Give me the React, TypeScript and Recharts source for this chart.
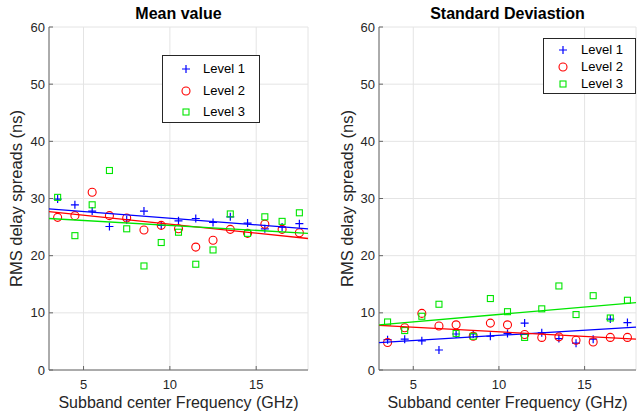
import React from 'react';
import { ComposedChart, Scatter, XAxis, YAxis, CartesianGrid } from 'recharts';

const FONT = '"Liberation Sans", Arial, Helvetica, sans-serif';

// subband centre frequencies (GHz)
const frequencies = [3.5, 4.5, 5.5, 6.5, 7.5, 8.5, 9.5, 10.5, 11.5, 12.5, 13.5, 14.5, 15.5, 16.5, 17.5];
// x extent of the fitted trend lines
const fitRange = [3, 18];

// mean RMS delay spread (ns)
const meanLevel1 = [29.9, 28.9, 27.8, 25.1, 26.3, 27.8, 25.3, 26.1, 26.5, 25.8, 26.8, 25.7, 24.7, 25.0, 25.6];
const meanLevel2 = [26.7, 27.0, 31.1, 27.0, 26.6, 24.5, 25.3, 24.7, 21.5, 22.7, 24.6, 23.9, 25.5, 24.6, 24.0];
const meanLevel3 = [30.2, 23.5, 28.9, 34.9, 24.7, 18.2, 22.3, 24.1, 18.5, 21.0, 27.3, 23.9, 26.8, 26.0, 27.5];
const meanFit1 = [28.2, 24.7];
const meanFit2 = [27.7, 23.0];
const meanFit3 = [26.5, 23.9];

// standard deviation of RMS delay spread (ns)
const stdLevel1 = [5.3, 5.4, 5.1, 3.5, 6.3, 6.3, 5.9, 6.4, 8.2, 6.5, 5.5, 4.7, 5.4, 8.9, 8.3];
const stdLevel2 = [4.8, 7.4, 9.9, 7.7, 7.9, 5.9, 8.2, 7.9, 6.2, 5.7, 5.8, 5.2, 4.9, 5.7, 5.7];
const stdLevel3 = [8.4, 6.9, 9.4, 11.5, 6.4, 5.9, 12.5, 10.2, 5.7, 10.7, 14.7, 9.7, 13.0, 9.1, 12.2];
const stdFit1 = [4.8, 7.5];
const stdFit2 = [7.8, 5.4];
const stdFit3 = [7.9, 11.8];

const xTicks = [5, 10, 15];
const yTicks = [0, 10, 20, 30, 40, 50, 60];
const levelNames = ['Level 1', 'Level 2', 'Level 3'];
const levelColors = ['#0000ff', '#ff0000', '#00e600'];
const markerKinds = ['plus', 'circle', 'square'];

const toPoints = (xs: number[], ys: number[]) => xs.map((x, i) => ({ x, y: ys[i] }));

const Marker = ({ kind, color, cx, cy }: { kind: string; color: string; cx: number; cy: number }) => {
  if (kind === 'plus') {
    return (
      <path
        d={`M${cx - 4},${cy}H${cx + 4}M${cx},${cy - 4}V${cy + 4}`}
        stroke={color}
        strokeWidth={1.2}
        fill="none"
      />
    );
  }
  if (kind === 'circle') {
    return <circle cx={cx} cy={cy} r={4} stroke={color} strokeWidth={1.1} fill="none" />;
  }
  return <rect x={cx - 3} y={cy - 3} width={6} height={6} stroke={color} strokeWidth={1.1} fill="none" />;
};

const markerShape = (kind: string, color: string) => (props: any) => (
  <Marker kind={kind} color={color} cx={props.cx} cy={props.cy} />
);

const noMarker = () => <g />;

interface LegendProps {
  left: number;
  top: number;
  width: number;
  height: number;
  firstRow: number;
  rowGap: number;
  markerX: number;
  textX: number;
}

const LegendBox: React.FC<LegendProps> = ({ left, top, width, height, firstRow, rowGap, markerX, textX }) => (
  <div
    style={{
      position: 'absolute',
      left,
      top,
      width,
      height,
      boxSizing: 'border-box',
      border: '1px solid #262626',
      background: '#fff',
      fontFamily: FONT,
      fontSize: 13,
      color: '#000',
    }}
  >
    {levelNames.map((name, i) => (
      <div key={name}>
        <svg
          width={12}
          height={12}
          style={{ position: 'absolute', left: markerX - 6, top: firstRow + i * rowGap - 6 }}
        >
          <Marker kind={markerKinds[i]} color={levelColors[i]} cx={6} cy={6} />
        </svg>
        <span
          style={{
            position: 'absolute',
            left: textX,
            top: firstRow + i * rowGap - 8,
            lineHeight: '16px',
            whiteSpace: 'nowrap',
          }}
        >
          {name}
        </span>
      </div>
    ))}
  </div>
);

interface PanelProps {
  left: number;
  title: string;
  levels: number[][];
  fits: number[][];
  yAxisWidth: number;
  marginRight: number;
  yLabelOffset: number;
  legend: LegendProps;
}

const Panel: React.FC<PanelProps> = ({ left, title, levels, fits, yAxisWidth, marginRight, yLabelOffset, legend }) => {
  const plotCenter = yAxisWidth + (320 - yAxisWidth - marginRight) / 2;
  return (
    <div style={{ position: 'absolute', left, top: 0, width: 320, height: 414 }}>
      <ComposedChart
        width={320}
        height={414}
        margin={{ top: 27, right: marginRight, bottom: 0, left: 0 }}
        style={{ fontFamily: FONT }}
      >
        <CartesianGrid stroke="#e4e4e4" />
        <XAxis
          dataKey="x"
          type="number"
          domain={[3, 18]}
          ticks={xTicks}
          height={44}
          stroke="#666"
          tickSize={-4}
          tickMargin={14}
          tick={{ fontSize: 13, fill: '#262626' }}
          label={{
            value: 'Subband center Frequency (GHz)',
            position: 'insideBottom',
            offset: 6,
            fill: '#262626',
            fontSize: 16,
          }}
        />
        <XAxis
          xAxisId="top"
          orientation="top"
          type="number"
          domain={[3, 18]}
          ticks={xTicks}
          height={0}
          stroke="#666"
          tickSize={-4}
          tickFormatter={() => ''}
        />
        <YAxis
          dataKey="y"
          type="number"
          domain={[0, 60]}
          ticks={yTicks}
          width={yAxisWidth}
          stroke="#666"
          tickSize={-4}
          tickMargin={8}
          tick={{ fontSize: 13, fill: '#262626' }}
          label={{
            value: 'RMS delay spreads (ns)',
            angle: -90,
            position: 'insideLeft',
            offset: yLabelOffset,
            fill: '#262626',
            fontSize: 16.5,
            style: { textAnchor: 'middle' },
          }}
        />
        <YAxis
          yAxisId="right"
          orientation="right"
          type="number"
          domain={[0, 60]}
          ticks={yTicks}
          width={0}
          stroke="#666"
          tickSize={-4}
          tickFormatter={() => ''}
        />
        {levels.map((vals, i) => (
          <Scatter
            key={`pts-${i}`}
            data={toPoints(frequencies, vals)}
            shape={markerShape(markerKinds[i], levelColors[i])}
            isAnimationActive={false}
          />
        ))}
        {fits.map((vals, i) => (
          <Scatter
            key={`fit-${i}`}
            data={toPoints(fitRange, vals)}
            line={{ stroke: levelColors[i], strokeWidth: 1.3 }}
            lineType="joint"
            shape={noMarker}
            isAnimationActive={false}
          />
        ))}
      </ComposedChart>
      <div
        style={{
          position: 'absolute',
          left: plotCenter - 150,
          width: 300,
          top: 4,
          textAlign: 'center',
          fontFamily: FONT,
          fontWeight: 'bold',
          fontSize: 16,
          lineHeight: '20px',
          color: '#000',
        }}
      >
        {title}
      </div>
      <LegendBox {...legend} />
    </div>
  );
};

export default function App() {
  return (
    <div style={{ position: 'absolute', left: 0, top: 0, width: 640, height: 414, background: '#fff' }}>
      <Panel
        left={0}
        title="Mean value"
        levels={[meanLevel1, meanLevel2, meanLevel3]}
        fits={[meanFit1, meanFit2, meanFit3]}
        yAxisWidth={49}
        marginRight={12}
        yLabelOffset={16}
        legend={{ left: 162, top: 55, width: 98, height: 68, firstRow: 13, rowGap: 21.5, markerX: 23, textX: 40 }}
      />
      <Panel
        left={320}
        title="Standard Deviastion"
        levels={[stdLevel1, stdLevel2, stdLevel3]}
        fits={[stdFit1, stdFit2, stdFit3]}
        yAxisWidth={59}
        marginRight={4}
        yLabelOffset={27}
        legend={{ left: 223, top: 38, width: 93, height: 56, firstRow: 11, rowGap: 17, markerX: 19, textX: 37 }}
      />
    </div>
  );
}
